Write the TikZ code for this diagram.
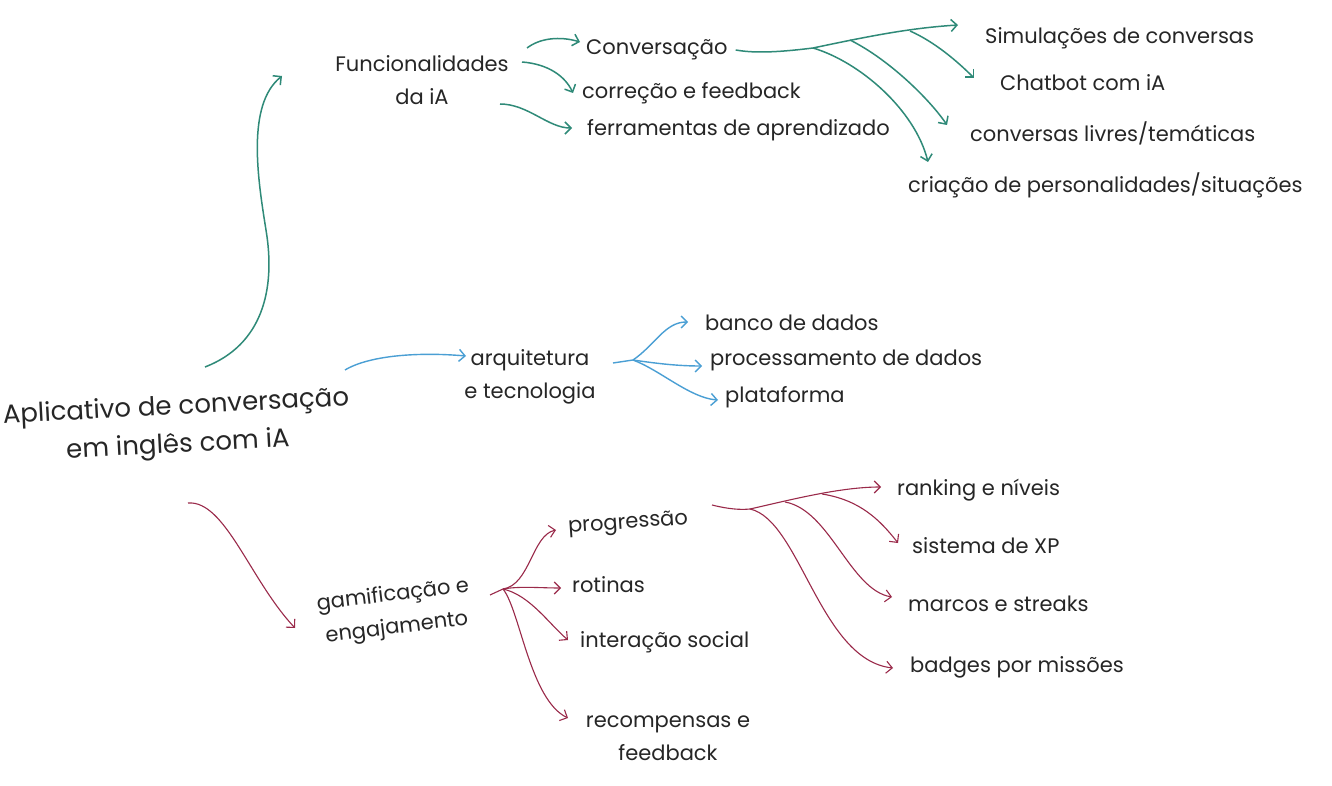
\documentclass[tikz,border=0pt]{standalone}
\usepackage{fontspec}
\setmainfont{Poppins}
\usetikzlibrary{arrows.meta}
\definecolor{grn}{HTML}{2F8A78}
\definecolor{blu}{HTML}{4A9FD4}
\definecolor{mar}{HTML}{9A2A4A}
\definecolor{ink}{HTML}{262626}
\begin{document}
\begin{tikzpicture}[x=1pt,y=-1pt,
  lbl/.style={text=ink,font=\fontsize{21}{33}\selectfont,inner sep=0pt,align=center},
  lw/.style={lbl,anchor=west},
  big/.style={text=ink,font=\fontsize{26}{38}\selectfont,inner sep=0pt,align=center},
  tip/.style={-{Straight Barb[length=6pt,width=12pt]}},
  gline/.style={draw=grn,line width=1.5pt,tip},
  bline/.style={draw=blu,line width=1.4pt,tip},
  mline/.style={draw=mar,line width=1.1pt,tip},
  gtrunk/.style={draw=grn,line width=1.5pt},
  mtrunk/.style={draw=mar,line width=1.1pt},
  btrunk/.style={draw=blu,line width=1.4pt}]
\useasboundingbox (0,0) rectangle (1332,786);
\fill[white] (0,0) rectangle (1332,786);

% nodes
\node[big,rotate=3] (main) at (177,427) {Aplicativo de conversação\\em inglês com iA};
\node[lbl] (fun) at (422,80) {Funcionalidades\\da iA};
\node[lw] (conv) at (586,50) {Conversação};
\node[lw] (corr) at (582,93) {correção e feedback};
\node[lw] (ferr) at (587,130) {ferramentas de aprendizado};
\node[lw] (sim) at (985,38) {Simulações de conversas};
\node[lw] (chat) at (1000,83) {Chatbot com iA};
\node[lw] (livr) at (970,133) {conversas livres/temáticas};
\node[lw] (cria) at (908,185) {criação de personalidades/situações};
\node[lbl] (arq) at (530,377) {arquitetura\\e tecnologia};
\node[lw] (banco) at (705,323) {banco de dados};
\node[lw] (proc) at (710,360) {processamento de dados};
\node[lw] (plat) at (725,397) {plataforma};
\node[lbl,rotate=7] (gam) at (395,612) {gamificação e\\engajamento};
\node[lw,rotate=4] (prog) at (568,528) {progressão};
\node[lw] (rot) at (572,585) {rotinas};
\node[lw] (inter) at (580,642) {interação social};
\node[lbl] (recomp) at (668,738) {recompensas e\\feedback};
\node[lw] (rank) at (897,490) {ranking e níveis};
\node[lw] (xp) at (912,546) {sistema de XP};
\node[lw] (marc) at (908,604) {marcos e streaks};
\node[lw] (badg) at (910,667) {badges por missões};

% coordinates
\coordinate (mtop) at (205,367);
\coordinate (mright) at (345,370);
\coordinate (mbot) at (188,503);
\coordinate (gfork) at (813,48);
\coordinate (gfork2) at (850,40);
\coordinate (gfork3) at (910,31);
\coordinate (bfork) at (633,360);
\coordinate (rfork) at (503,589);
\coordinate (pfork1) at (750,509);
\coordinate (pfork2) at (785,502);
\coordinate (pfork3) at (822,494);

% green
\draw[gline] (mtop) .. controls (262,345) and (276,290) .. (266,230)
  .. controls (258,180) and (246,105) .. (282,76);
\draw[gline] (527,48) .. controls (540,38) and (560,36) .. (580,42);
\draw[gline] (522,62) .. controls (548,64) and (565,76) .. (573,93);
\draw[gline] (500,104) .. controls (528,104) and (548,128) .. (572,128);
\draw[gtrunk] ([xshift=8pt]conv.east) .. controls (748,52) and (765,54) .. (gfork);
\draw[gline] (gfork) .. controls (870,36) and (910,28) .. (958,25);
\draw[gline] (gfork) .. controls (860,62) and (915,110) .. (928,162);
\draw[gline] (gfork2) .. controls (890,60) and (930,100) .. (947,125);
\draw[gline] (gfork3) .. controls (935,42) and (958,62) .. (974,78);

% blue
\draw[bline] (mright) .. controls (370,355) and (420,352) .. (466,356);
\draw[btrunk] (613,363) -- (bfork);
\draw[bline] (bfork) .. controls (655,345) and (665,322) .. (688,322);
\draw[bline] (bfork) .. controls (660,364) and (680,366) .. (702,366);
\draw[bline] (bfork) .. controls (660,370) and (690,398) .. (718,400);

% maroon
\draw[mline] (mbot) .. controls (225,500) and (250,580) .. (295,628);
\draw[mtrunk] (490,595) -- (rfork);
\draw[mline] (rfork) .. controls (530,585) and (532,535) .. (556,530);
\draw[mline] (rfork) .. controls (520,586) and (540,588) .. (561,588);
\draw[mline] (rfork) .. controls (530,595) and (550,625) .. (568,640);
\draw[mline] (rfork) .. controls (520,610) and (530,700) .. (568,718);
\draw[mtrunk] (712,505) .. controls (728,509) and (740,510) .. (pfork1);
\draw[mline] (pfork1) .. controls (790,500) and (840,487) .. (881,487);
\draw[mline] (pfork1) .. controls (800,520) and (820,660) .. (893,668);
\draw[mline] (pfork2) .. controls (830,510) and (850,590) .. (892,597);
\draw[mline] (pfork3) .. controls (860,500) and (880,520) .. (898,543);
\end{tikzpicture}
\end{document}
